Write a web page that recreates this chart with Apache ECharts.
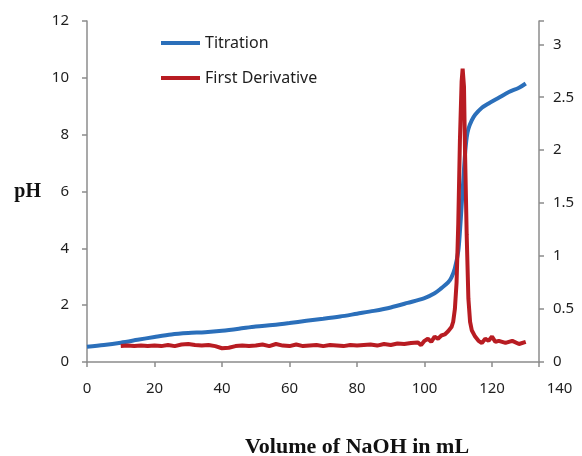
<!DOCTYPE html>
<html>
<head>
<meta charset="utf-8">
<script src="https://cdn.jsdelivr.net/npm/echarts@6/dist/echarts.min.js"></script>
<style>
  html, body { margin: 0; padding: 0; background: #fff; }
  #chart { width: 582px; height: 456px; }
</style>
</head>
<body>
<div id="chart"></div>
<script>
// titration curve (pH vs mL NaOH)
const titrationX = [0, 5, 10, 15, 20, 25, 30, 35, 40, 45, 50, 55, 60, 65, 70, 75, 80, 85, 90, 95, 100, 103, 105, 107, 108, 109, 110, 110.5, 111, 111.5, 112, 112.5, 113, 114, 115, 117, 119, 122, 125, 128, 130];
const titrationY = [0.54, 0.6, 0.68, 0.78, 0.88, 0.97, 1.02, 1.05, 1.1, 1.17, 1.25, 1.3, 1.37, 1.45, 1.52, 1.6, 1.7, 1.8, 1.92, 2.08, 2.25, 2.42, 2.6, 2.8, 2.98, 3.3, 3.9, 4.6, 5.5, 6.4, 7.3, 7.9, 8.2, 8.5, 8.7, 8.95, 9.1, 9.3, 9.5, 9.65, 9.8];

// first derivative (right axis)
const derivX = [10, 12, 14, 16, 18, 20, 22, 24, 26, 28, 30, 32, 34, 36, 38, 40, 42, 44, 46, 48, 50, 52, 54, 56, 58, 60, 62, 64, 66, 68, 70, 72, 74, 76, 78, 80, 82, 84, 86, 88, 90, 92, 94, 96, 98, 99, 100, 101, 102, 103, 104, 105, 106, 107, 108, 108.5, 109, 109.5, 110, 110.5, 111, 111.3, 111.7, 112, 112.5, 113, 113.5, 114, 115, 116, 117, 118, 119, 120, 121, 122, 124, 126, 128, 130];
const derivY = [0.15, 0.155, 0.15, 0.155, 0.15, 0.155, 0.15, 0.16, 0.15, 0.165, 0.17, 0.16, 0.155, 0.16, 0.15, 0.13, 0.135, 0.15, 0.155, 0.15, 0.155, 0.165, 0.15, 0.17, 0.155, 0.15, 0.165, 0.15, 0.155, 0.16, 0.15, 0.16, 0.155, 0.15, 0.16, 0.155, 0.16, 0.165, 0.155, 0.17, 0.16, 0.175, 0.17, 0.18, 0.185, 0.16, 0.2, 0.22, 0.19, 0.24, 0.22, 0.25, 0.26, 0.29, 0.33, 0.38, 0.5, 0.75, 1.3, 2.1, 2.65, 2.77, 2.6, 2.0, 1.2, 0.6, 0.38, 0.3, 0.24, 0.2, 0.18, 0.22, 0.2, 0.24, 0.19, 0.2, 0.18, 0.2, 0.17, 0.19];

const xTicks = [0, 20, 40, 60, 80, 100, 120, 140];

let chart = echarts.init(document.getElementById('chart'));

let labelFont = {
  color: '#1e1e1e',
  fontFamily: 'Noto Sans',
  fontSize: 15
};

let axisGray = { color: '#8c8c8c', width: 1.5 };

let option = {
  animation: false,
  title: {
    text: 'Volume of NaOH in mL',
    left: 240,
    top: 431,
    textStyle: {
      fontFamily: 'Liberation Serif',
      fontWeight: 'bold',
      fontSize: 22,
      color: '#111'
    }
  },
  legend: {
    orient: 'vertical',
    left: 156,
    top: 30,
    itemWidth: 39,
    itemHeight: 4,
    itemGap: 19,
    icon: 'rect',
    textStyle: { color: '#1e1e1e', fontFamily: 'Noto Sans', fontSize: 16 },
    data: ['Titration', 'First Derivative']
  },
  grid: [
    { left: 87, right: 22.5, top: 21, bottom: 94 },
    // second grid only carries the short x axis line ending at the right axis
    { left: 87, right: 43, top: 21, bottom: 94 }
  ],
  xAxis: [
    {
      type: 'value',
      gridIndex: 0,
      min: 0,
      max: 140,
      interval: 20,
      axisLine: { show: false },
      axisTick: { show: false },
      splitLine: { show: false },
      axisLabel: Object.assign({ margin: 19, formatter: v => xTicks.includes(v) ? v : '' }, labelFont)
    },
    {
      type: 'value',
      gridIndex: 1,
      min: 0,
      max: 133.9,
      interval: 20,
      axisLine: { show: true, lineStyle: axisGray },
      axisTick: { show: true, length: 5, lineStyle: axisGray },
      splitLine: { show: false },
      axisLabel: { show: false }
    }
  ],
  yAxis: [
    {
      type: 'value',
      gridIndex: 0,
      position: 'left',
      min: 0,
      max: 12,
      interval: 2,
      name: 'pH',
      nameLocation: 'middle',
      nameRotate: 0,
      nameGap: 46,
      nameTextStyle: { fontFamily: 'Liberation Serif', fontWeight: 'bold', fontSize: 20, color: '#111' },
      axisLine: { show: true, lineStyle: axisGray },
      axisTick: { show: true, length: 5, lineStyle: axisGray },
      splitLine: { show: false },
      axisLabel: Object.assign({ margin: 18 }, labelFont)
    },
    {
      type: 'value',
      gridIndex: 0,
      position: 'right',
      offset: -20.5,
      min: 0,
      max: 3.22,
      interval: 0.5,
      axisLine: { show: true, lineStyle: axisGray },
      axisTick: { show: true, length: 5, lineStyle: axisGray },
      splitLine: { show: false },
      axisLabel: Object.assign({
        margin: 14,
        formatter: function (v) {
          return Math.abs(v * 2 - Math.round(v * 2)) < 1e-6 ? v : '';
        }
      }, labelFont)
    },
    {
      type: 'value',
      gridIndex: 1,
      show: false,
      min: 0,
      max: 12
    }
  ],
  series: [
    {
      name: 'Titration',
      type: 'line',
      xAxisIndex: 0,
      yAxisIndex: 0,
      showSymbol: false,
      smooth: 0.3,
      lineStyle: { color: '#2b6fba', width: 4 },
      itemStyle: { color: '#2b6fba' },
      data: titrationX.map((x, i) => [x, titrationY[i]])
    },
    {
      name: 'First Derivative',
      type: 'line',
      xAxisIndex: 0,
      yAxisIndex: 1,
      showSymbol: false,
      lineStyle: { color: '#b81c22', width: 4 },
      itemStyle: { color: '#b81c22' },
      data: derivX.map((x, i) => [x, derivY[i]])
    }
  ]
};

chart.setOption(option);
</script>
</body>
</html>
